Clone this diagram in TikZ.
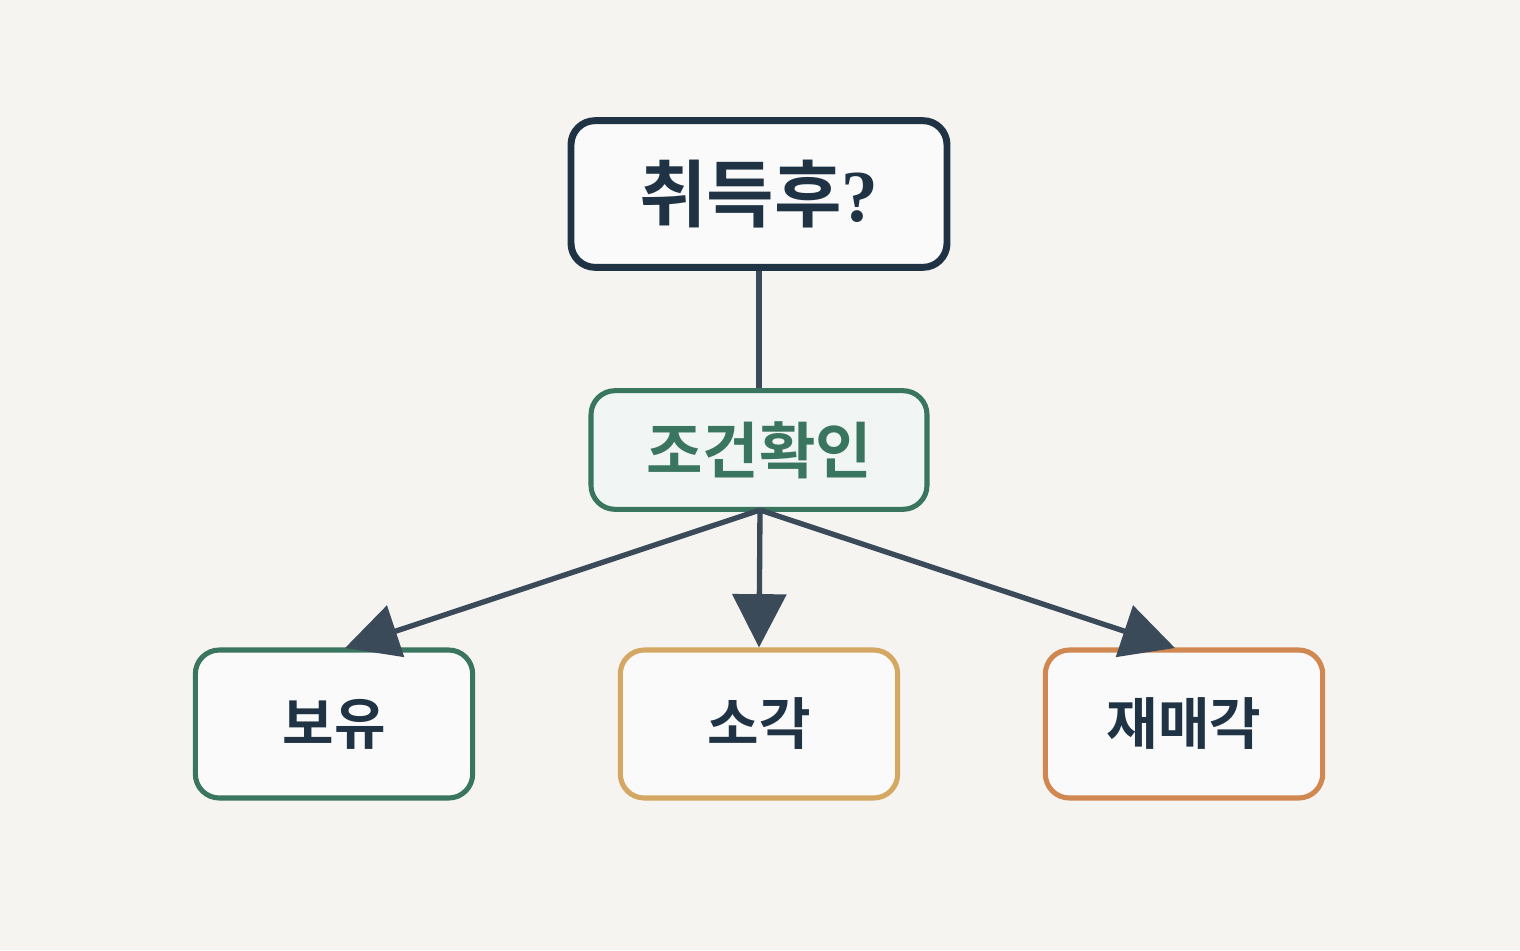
\documentclass[tikz,border=0pt]{standalone}
\usepackage{fontspec}
\newfontfamily\kr{Noto Sans CJK KR}[BoldFont={Noto Sans CJK KR Bold}]
\newfontfamily\qs{Liberation Serif}
\usetikzlibrary{arrows.meta}
\definecolor{bg}{HTML}{F5F4F0}
\definecolor{dark}{HTML}{1F3344}
\definecolor{grn}{HTML}{3A7560}
\definecolor{gold}{HTML}{D4A862}
\definecolor{org}{HTML}{D08850}
\definecolor{ln}{HTML}{3A4A58}
\definecolor{wh}{HTML}{FAFAFA}
\begin{document}
\begin{tikzpicture}[x=0.75pt,y=-0.75pt,
  box/.style={draw,rounded corners=18pt,fill=wh,line width=3.8pt,font=\kr\bfseries,text=dark},
  con/.style={draw=ln,line width=4pt},
  arr/.style={con,-{Triangle[length=40pt,width=40pt]}}]
\fill[bg] (0,0) rectangle (1520,950);
\useasboundingbox (0,0) rectangle (1520,950);
\node[box,draw=dark,line width=5.2pt,minimum width=282pt,minimum height=110pt,font=\kr\bfseries\fontsize{55}{64}\selectfont] (top) at (759,194) {취득후{\qs\bfseries ?}};
\node[box,draw=grn,fill=grn!7!white,minimum width=252pt,minimum height=89pt,text=grn,font=\kr\bfseries\fontsize{46}{54}\selectfont] (mid) at (759,450) {조건확인};
\node[box,draw=grn,minimum width=208pt,minimum height=111pt,font=\kr\bfseries\fontsize{42}{50}\selectfont] (a) at (334,724) {보유};
\node[box,draw=gold,minimum width=208pt,minimum height=111pt,font=\kr\bfseries\fontsize{42}{50}\selectfont] (b) at (759,724) {소각};
\node[box,draw=org,minimum width=208pt,minimum height=111pt,font=\kr\bfseries\fontsize{42}{50}\selectfont] (c) at (1184,724) {재매각};
\draw[con] (top.south) -- (mid.north);
\coordinate (m) at (760,510);
\draw[arr] (m) -- (345,648);
\draw[arr] (m) -- (b.north);
\draw[arr] (m) -- (1175,648);
\end{tikzpicture}
\end{document}
